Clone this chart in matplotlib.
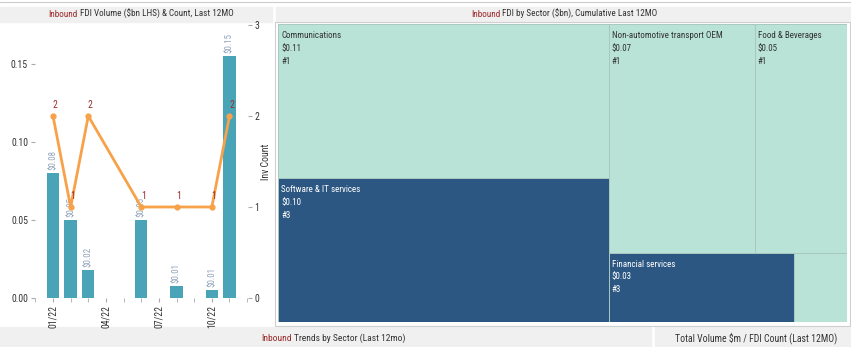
import matplotlib
matplotlib.use('Agg')
import matplotlib.pyplot as plt
from matplotlib import font_manager
from matplotlib.patches import Rectangle

# Объём FDI по месяцам ($bn) и количество сделок
month_idx = [0, 1, 2, 5, 7, 9, 10]
volume = [0.080, 0.050, 0.018, 0.050, 0.008, 0.005, 0.155]
volume_labels = ['$0.08', '$0.05', '$0.02', '$0.05', '$0.01', '$0.01', '$0.15']
inv_count = [2, 1, 2, 1, 1, 1, 2]
tick_pos = [0, 3, 6, 9]
tick_labels = ['01/22', '04/22', '07/22', '10/22']

# Секторы для treemap
sectors = ['Communications', 'Software & IT services', 'Non-automotive transport OEM',
           'Food & Beverages', 'Financial services', '']
sector_vol = [0.111, 0.104, 0.073, 0.046, 0.028, 0.008]
sector_cnt = [1, 3, 1, 1, 3, 1]

RED = '#9b2a2a'
TXT = '#333333'
LIGHT = '#b9e3d7'
DARK = '#2c5782'

# узкий шрифт, если есть
names = {f.name for f in font_manager.fontManager.ttflist}
if 'Roboto Condensed' in names:
    plt.rcParams['font.family'] = ['Roboto Condensed', 'DejaVu Sans']
    k = 0.9
else:
    plt.rcParams['font.family'] = ['Liberation Sans', 'DejaVu Sans']
    k = 0.82


def treemap_layout(vals):
    # левая колонка: два крупнейших, справа две строки по два
    total = sum(vals)
    left = vals[0] + vals[1]
    wl = left / total
    rects = []
    y = 0
    for i in (0, 1):
        h = vals[i] / left
        rects.append((0, y, wl, h))
        y += h
    right = total - left
    y = 0
    for row in ((2, 3), (4, 5)):
        rs = sum(vals[i] for i in row)
        h = rs / right
        x = wl
        for i in row:
            w = (1 - wl) * vals[i] / rs
            rects.append((x, y, w, h))
            x += w
        y += h
    return rects


fig = plt.figure(figsize=(8.51, 3.47), dpi=100)
W, H = 851, 347

# фон и заголовки панелей (в пикселях)
bg = fig.add_axes([0, 0, 1, 1])
bg.set_xlim(0, W)
bg.set_ylim(H, 0)
bg.axis('off')
bg.add_patch(Rectangle((0, 7), 272, 15, color='#f0f0f0'))
bg.add_patch(Rectangle((276, 7), 575, 15, color='#f0f0f0'))
bg.add_patch(Rectangle((0, 327), 651, 20, color='#f0f0f0'))
bg.add_patch(Rectangle((655, 327), 196, 20, color='#f0f0f0'))
bg.plot([0, W], [1.5, 1.5], color='#cccccc', lw=0.8)
bg.add_patch(Rectangle((275, 22), 575, 304, fill=False, ec='#cfcfcf', lw=0.8))

renderer = fig.canvas.get_renderer()


def two_color_title(xc, y, first, rest, size):
    t1 = bg.text(0, y, first, color=RED, fontsize=size, va='baseline')
    t2 = bg.text(0, y, rest, color=TXT, fontsize=size, va='baseline')
    w1 = t1.get_window_extent(renderer).width
    w2 = t2.get_window_extent(renderer).width
    gap = size * 0.3
    x0 = xc - (w1 + gap + w2) / 2
    t1.set_x(x0)
    t2.set_x(x0 + w1 + gap)


two_color_title(141, 17, 'Inbound', 'FDI Volume ($bn LHS) & Count, Last 12MO', 7.6 * k * 0.96)
two_color_title(564, 17, 'Inbound', 'FDI by Sector ($bn), Cumulative Last 12MO', 7.6 * k * 0.96)
two_color_title(333, 341, 'Inbound', 'Trends by Sector (Last 12mo)', 7.6 * k)
bg.text(756, 338, 'Total Volume $m / FDI Count (Last 12MO)', color=TXT,
        fontsize=7.6 * k * 1.03, ha='center', va='center')

# Левый график: столбцы + линия
ax = fig.add_axes([35 / W, 1 - 298 / H, (248 - 35) / W, (298 - 25) / H])
bars = ax.bar(month_idx, volume, width=0.7, color='#4aa4b8')
for b, lab in zip(bars, volume_labels):
    ax.annotate(lab, (b.get_x() + b.get_width() / 2, b.get_height()),
                xytext=(0, 3), textcoords='offset pixels', rotation=90,
                ha='center', va='bottom', fontsize=7.2 * k, color='#8fa3ba')
ax.set_xlim(-1.02, 11.05)
ax.set_ylim(0, 0.175)
ax.set_yticks([0, 0.05, 0.10, 0.15])
ax.set_yticklabels(['0.00', '0.05', '0.10', '0.15'])
ax.set_xticks(tick_pos)
ax.set_xticklabels(tick_labels, rotation=90)
ax.set_xticks(range(-1, 12), minor=True)
for s in ax.spines.values():
    s.set_visible(False)
ax.tick_params(axis='both', which='both', length=3, color='#aaaaaa',
               labelsize=7.8 * k, labelcolor=TXT, pad=2)

ax2 = ax.twinx()
ax2.plot(month_idx, inv_count, color='#f7a24a', lw=2, marker='o', ms=3.5)
for x, c in zip(month_idx, inv_count):
    ax2.annotate(str(c), (x, c), xytext=(2, 6), textcoords='offset pixels',
                 ha='center', va='bottom', fontsize=7.8 * k, color=RED)
ax2.set_ylim(0, 3)
ax2.set_yticks([0, 1, 2, 3])
for s in ax2.spines.values():
    s.set_visible(False)
ax2.tick_params(axis='y', length=3, color='#aaaaaa', labelsize=7.8 * k,
                labelcolor=TXT, pad=1.5)
ax2.set_ylabel('Inv Count', fontsize=7.8 * k, color=TXT, labelpad=1)

# Treemap по секторам
tm = fig.add_axes([278 / W, 1 - 322 / H, 569 / W, 298 / H])
tm.set_xlim(0, 1)
tm.set_ylim(1, 0)
tm.axis('off')
for (x, y, w, h), name, v, c in zip(treemap_layout(sector_vol), sectors,
                                     sector_vol, sector_cnt):
    col = DARK if c >= 3 else LIGHT
    tm.add_patch(Rectangle((x, y), w, h, facecolor=col, edgecolor='#a9c9bf', lw=0.7))
    if name:
        tm.annotate(f'{name}\n${v:.2f}\n#{c}', (x, y), xytext=(3, -7),
                    textcoords='offset pixels', ha='left', va='top',
                    fontsize=7.2 * k, linespacing=1.55,
                    color='white' if c >= 3 else TXT)

fig.savefig('out.png', dpi=100)
